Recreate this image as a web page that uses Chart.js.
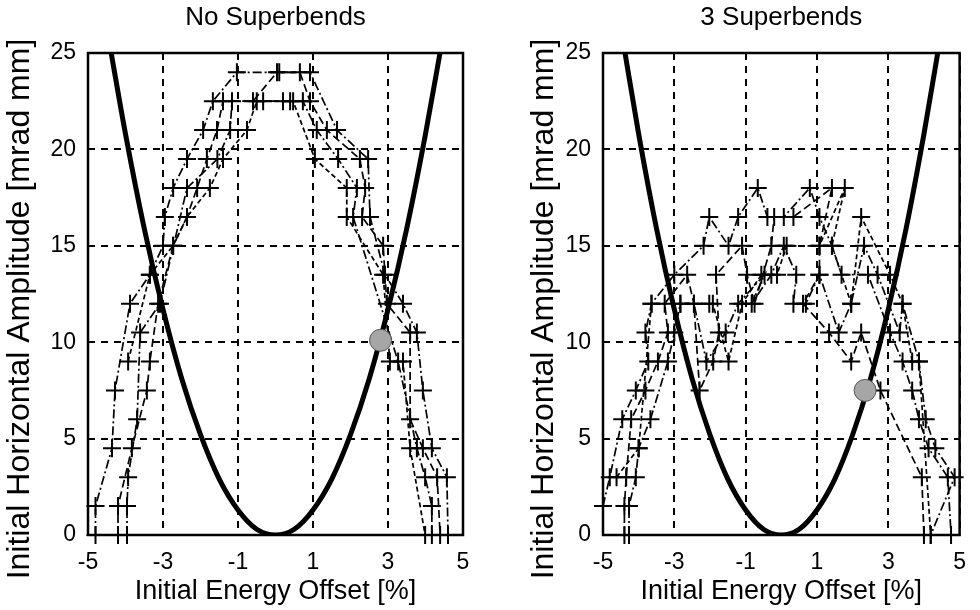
<!DOCTYPE html>
<html>
<head>
<meta charset="utf-8">
<script src="https://cdn.jsdelivr.net/npm/chart.js@4.4.1/dist/chart.umd.min.js"></script>
<style>
  body { margin: 0; background: #fff; }
  #wrap { position: relative; width: 980px; height: 610px; }
  canvas { position: absolute; top: 0; }
</style>
</head>
<body>
<div id="wrap">
  <canvas id="left" width="490" height="610" style="left:0"></canvas>
  <canvas id="right" width="465" height="610" style="left:515px"></canvas>
</div>
<script>
// axis ticks
var xTicks = [-5, -3, -1, 1, 3, 5];
var yTicks = [0, 5, 10, 15, 20, 25];

// momentum acceptance curve (same in both panels)
var curveX = [-4.4, -4, -3.5, -3, -2.5, -2, -1.5, -1, -0.5, 0, 0.5, 1, 1.5, 2, 2.5, 3, 3.5, 4, 4.45];
var curveY = [25.2, 20.8, 15.9, 11.7, 8.1, 5.2, 2.9, 1.3, 0.3, 0, 0.3, 1.3, 2.9, 5.2, 8.1, 11.7, 15.9, 20.8, 25.7];

// No Superbends: tracked aperture per seed
var noSbX1 = [-4.8, -4.8, -4.36, -4.28, -3.88, -3.35, -3.0, -2.95, -2.73, -2.36, -1.93, -1.67, -1.03, 0.1, 0.92, 1.64, 2.47, 2.52, 2.92, 3.4, 3.77, 3.93, 4.17, 4.57, 4.6];
var noSbY1 = [0, 1.5, 4.5, 7.5, 12, 13.5, 15, 16.5, 18, 19.5, 21, 22.5, 24, 24, 24, 21, 19.5, 16.5, 13.5, 12, 10.5, 7.5, 4.5, 3, 0];
var noSbX2 = [-4.2, -4.2, -3.83, -3.43, -3.35, -3.13, -2.73, -2.36, -2.09, -1.83, -1.56, -1.4, -0.6, 0.04, 0.65, 0.92, 1.37, 2.25, 2.39, 2.31, 2.87, 2.97, 3.59, 3.59, 3.93, 4.31, 4.39];
var noSbY2 = [0, 1.5, 4.5, 7.5, 9, 12, 15, 16.5, 18, 19.5, 21, 22.5, 22.5, 24, 24, 22.5, 21, 19.5, 18, 16.5, 15, 12, 10.5, 6, 4.5, 3, 0];
var noSbX3 = [-3.96, -3.96, -3.93, -3.69, -3.61, -3.08, -2.36, -1.55, -1.21, -1.16, -0.33, 0.2, 0.73, 1.1, 1.67, 2.17, 2.07, 3.27, 3.77, 3.99, 4.17, 4.17];
var noSbY3 = [0, 1.5, 3, 6, 10.5, 12, 18, 19.5, 21, 22.5, 22.5, 22.5, 22.5, 21, 19.5, 18, 16.5, 9, 4.5, 3, 1.5, 0];
var noSbX4 = [-3.93, -3.35, -2.73, -2.36, -1.75, -1.4, -0.76, -0.5, 0.39, 0.47, 1.05, 1.9, 1.9, 2.87, 3.05, 3.4, 3.59, 3.99];
var noSbY4 = [9, 13.5, 15, 16.5, 18, 19.5, 21, 22.5, 22.5, 22.5, 19.5, 18, 16.5, 13.5, 9, 9, 4.5, 0];
var noSbDot = [2.8, 10.1];

// 3 Superbends
var sbX1 = [-5, -4.81, -4.46, -4.08, -3.73, -3.81, -3.64, -3.0, -2.18, -2.02, -1.48, -1.21, -0.66, -0.39, 0.07, 0.8, 1.07, 1.42, 1.69, 2.43, 3.05, 3.4, 3.67, 3.86, 4.13, 4.67, 4.76];
var sbY1 = [1.5, 3, 6, 7.5, 9, 10.5, 12, 13.5, 15, 16.5, 15, 16.5, 18, 16.5, 16.5, 18, 16.5, 15, 13.5, 13.5, 10.5, 9, 7.5, 6, 4.5, 3, 0];
var sbX2 = [-4.4, -4.4, -4.35, -4.21, -3.81, -3.46, -3.18, -3.27, -2.64, -2.45, -2.29, -1.91, -1.75, -1.83, -1.1, -0.96, -0.75, -0.28, -0.2, 0.34, 1.42, 1.07, 1.07, 0.61, 1.34, 1.96, 2.24, 2.78, 3.94, 4.0];
var sbY2 = [0, 1.5, 3, 6, 7.5, 9, 10.5, 12, 13.5, 12, 7.5, 9, 10.5, 13.5, 15, 13.5, 12, 15, 16.5, 16.5, 18, 15, 13.5, 12, 10.5, 9, 10.5, 7.5, 3, 0];
var sbX3 = [-4.27, -4.27, -4.08, -4.0, -3.67, -3.18, -3.0, -2.83, -2.45, -2.1, -1.56, -1.21, -0.47, -0.83, -0.28, 0.07, 0.42, 0.34, 0.69, 1.07, 1.61, 1.96, 2.32, 2.7, 3.32, 3.4, 3.86, 4.05, 4.32, 4.86, 4.19];
var sbY3 = [0, 1.5, 3, 4.5, 6, 9, 10.5, 12, 12, 9, 10.5, 12, 13.5, 12, 13.5, 15, 13.5, 12, 12, 13.5, 10.5, 12, 15, 13.5, 10.5, 12, 9, 6, 4.5, 3, 0];
var sbX4 = [-4.62, -4.0, -3.64, -2.83, -2.02, -1.92, -1.48, -1.1, -0.56, -0.12, 0.15, 1.07, 1.78, 1.42, 1.96, 2.24, 3.05, 3.4, 3.67, 3.86, 4.19];
var sbY4 = [3, 4.5, 12, 12, 12, 12, 9, 12, 13.5, 13.5, 15, 15, 18, 15, 12, 16.5, 13.5, 12, 9, 9, 0];
var sbDot = [2.35, 7.5];

var dashes = [[9, 3, 2, 3], [8, 4], [9, 3, 2, 3], [5, 3]];
var fontFamily = "'Liberation Sans', Arial, Helvetica, sans-serif";

function pts(xs, ys) {
    return xs.map(function (x, i) { return { x: x, y: ys[i] }; });
}

// solid frame round the plot area
var boxPlugin = {
    id: 'box',
    beforeDatasetsDraw: function (chart) {
        var a = chart.chartArea, ctx = chart.ctx;
        ctx.save();
        ctx.strokeStyle = '#000';
        ctx.lineWidth = 2.5;
        ctx.strokeRect(a.left, a.top, a.right - a.left, a.bottom - a.top);
        ctx.restore();
    }
};

// y axis label runs past the plot bottom in the original, so place it by hand
var yLabelPlugin = {
    id: 'yLabel',
    afterDraw: function (chart, args, opts) {
        var ctx = chart.ctx;
        ctx.save();
        ctx.translate(opts.x, opts.y);
        ctx.rotate(-Math.PI / 2);
        ctx.font = '32px ' + fontFamily;
        ctx.fillStyle = '#000';
        ctx.textAlign = 'center';
        ctx.textBaseline = 'middle';
        ctx.fillText(opts.text, 0, 0);
        ctx.restore();
    }
};

function makePanel(canvasId, title, seeds, dot, rightPad, yLabelX) {
    var datasets = seeds.map(function (s, i) {
        return {
            data: pts(s[0], s[1]),
            showLine: true,
            borderColor: '#000',
            borderWidth: 1.7,
            borderDash: dashes[i],
            pointStyle: 'cross',
            pointRadius: 9,
            pointBorderWidth: 2,
            pointBorderColor: '#000',
            clip: false,
            order: 2
        };
    });
    datasets.push({
        data: pts(curveX, curveY),
        showLine: true,
        borderColor: '#000',
        borderWidth: 5,
        pointRadius: 0,
        cubicInterpolationMode: 'monotone',
        order: 1
    });
    datasets.push({
        data: [{ x: dot[0], y: dot[1] }],
        pointRadius: 11,
        pointBackgroundColor: '#a6a6a6',
        pointBorderColor: '#555',
        pointBorderWidth: 1,
        order: 0
    });

    return new Chart(document.getElementById(canvasId), {
        type: 'scatter',
        data: { datasets: datasets },
        options: {
            responsive: false,
            animation: false,
            layout: { padding: { left: 0, right: rightPad, top: 0, bottom: 0 } },
            plugins: {
                legend: { display: false },
                tooltip: { enabled: false },
                title: {
                    display: true,
                    text: title,
                    fullSize: false,
                    color: '#000',
                    font: { family: fontFamily, size: 26, weight: 'normal' },
                    padding: { top: 2, bottom: 19.8 }
                },
                yLabel: { text: 'Initial Horizontal Amplitude [mrad mm]', x: yLabelX, y: 309 }
            },
            scales: {
                x: {
                    type: 'linear',
                    min: -5,
                    max: 5,
                    afterBuildTicks: function (scale) {
                        scale.ticks = xTicks.map(function (v) { return { value: v }; });
                    },
                    afterFit: function (scale) { scale.height = 75; },
                    grid: { color: '#000', lineWidth: 2, drawTicks: false },
                    border: { display: false, dash: [7, 6] },
                    ticks: {
                        color: '#000',
                        padding: 14,
                        maxRotation: 0,
                        font: { family: fontFamily, size: 23 }
                    },
                    title: {
                        display: true,
                        text: 'Initial Energy Offset [%]',
                        color: '#000',
                        font: { family: fontFamily, size: 27 },
                        padding: { top: 0, bottom: 2 }
                    }
                },
                y: {
                    type: 'linear',
                    min: 0,
                    max: 25,
                    afterBuildTicks: function (scale) {
                        scale.ticks = yTicks.map(function (v) { return { value: v }; });
                    },
                    afterFit: function (scale) { scale.width = 88; },
                    grid: { color: '#000', lineWidth: 2, drawTicks: false },
                    border: { display: false, dash: [7, 6] },
                    ticks: {
                        color: '#000',
                        padding: 12,
                        font: { family: fontFamily, size: 23 }
                    }
                }
            }
        },
        plugins: [boxPlugin, yLabelPlugin]
    });
}

makePanel('left', 'No Superbends',
    [[noSbX1, noSbY1], [noSbX2, noSbY2], [noSbX3, noSbY3], [noSbX4, noSbY4]],
    noSbDot, 27, 20);
makePanel('right', '3 Superbends',
    [[sbX1, sbY1], [sbX2, sbY2], [sbX3, sbY3], [sbX4, sbY4]],
    sbDot, 8, 29);
</script>
</body>
</html>
